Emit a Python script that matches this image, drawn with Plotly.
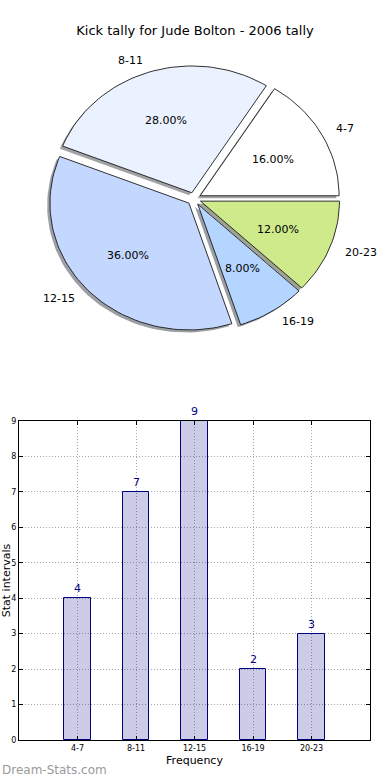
import math
import plotly.graph_objects as go

# ---- data ----
categories = ["4-7", "8-11", "12-15", "16-19", "20-23"]
kick_counts = [4, 7, 9, 2, 3]
slice_colors = ["#ffffff", "#eaf1ff", "#c4d8ff", "#b3d5ff", "#cfea8a"]
y_ticks = list(range(0, 10))
title_text = "Kick tally for Jude Bolton - 2006 tally"

FONT = "DejaVu Sans"
W, H = 390, 780

fig = go.Figure()

# ---- pie drawn as wedges in its own (non-equal aspect) axes ----
total = sum(kick_counts)
explode = 0.05
shadow_off = (-0.02, -0.02)
label_dist = 1.1
pct_dist = 0.6


def hex_rgb(h):
    h = h.lstrip("#")
    return tuple(int(h[i:i + 2], 16) for i in (0, 2, 4))


wedges = []
start = 0.0
for cat, v, col in zip(categories, kick_counts, slice_colors):
    span = 360.0 * v / total
    t1, t2 = start, start + span
    mid = math.radians((t1 + t2) / 2)
    cx, cy = explode * math.cos(mid), explode * math.sin(mid)
    n = max(8, int(span / 2))
    xs, ys = [cx], [cy]
    for k in range(n + 1):
        a = math.radians(t1 + (t2 - t1) * k / n)
        xs.append(cx + math.cos(a))
        ys.append(cy + math.sin(a))
    xs.append(cx)
    ys.append(cy)
    wedges.append((cat, v, col, xs, ys, mid, cx, cy))
    start = t2

# shadows first (behind all wedges)
for cat, v, col, xs, ys, mid, cx, cy in wedges:
    r, g, b = hex_rgb(col)
    fig.add_trace(go.Scatter(
        x=[x + shadow_off[0] for x in xs], y=[y + shadow_off[1] for y in ys],
        xaxis="x2", yaxis="y2", mode="lines", fill="toself",
        fillcolor=f"rgba({int(r*0.3)},{int(g*0.3)},{int(b*0.3)},0.5)",
        line=dict(width=0), hoverinfo="skip", showlegend=False))

for cat, v, col, xs, ys, mid, cx, cy in wedges:
    fig.add_trace(go.Scatter(
        x=xs, y=ys, xaxis="x2", yaxis="y2", mode="lines", fill="toself",
        fillcolor=col, line=dict(width=0.9, color="#1a1a1a"),
        name=cat, hoverinfo="name", showlegend=False))

annotations = []
for cat, v, col, xs, ys, mid, cx, cy in wedges:
    lx = cx + label_dist * math.cos(mid)
    ly = cy + label_dist * math.sin(mid)
    annotations.append(dict(
        x=lx, y=ly, xref="x2", yref="y2", text=cat, showarrow=False,
        xanchor="left" if math.cos(mid) > 0 else "right", yanchor="middle",
        font=dict(family=FONT, size=11, color="#000000")))
    px = cx + pct_dist * math.cos(mid)
    py = cy + pct_dist * math.sin(mid)
    annotations.append(dict(
        x=px, y=py, xref="x2", yref="y2", text=f"{100.0 * v / total:.2f}%",
        showarrow=False, xanchor="center", yanchor="middle",
        font=dict(family=FONT, size=11, color="#000000")))

# ---- bar chart ----
xpos = list(range(1, len(categories) + 1))
fig.add_trace(go.Bar(
    x=xpos, y=kick_counts, width=0.45,
    marker=dict(color="rgba(0,0,128,0.2)", line=dict(color="#000080", width=1)),
    showlegend=False, hovertemplate="%{y}<extra></extra>"))

for xp, v in zip(xpos, kick_counts):
    annotations.append(dict(
        x=xp, y=v, xref="x", yref="y", text=str(v), showarrow=False,
        yanchor="bottom", xanchor="center", yshift=1,
        font=dict(family=FONT, size=11, color="#000080")))

annotations.append(dict(
    x=0.0, y=1 - 770 / H, xref="paper", yref="paper", text="Dream-Stats.com",
    showarrow=False, xanchor="left", yanchor="middle",
    font=dict(family=FONT, size=12, color="#9a9a9a")))

# pie axes: pixel mapping -> center (194, 198.8), 139 px/unit in x, 126.8 px/unit in y
pcx, pcy, sx, sy = 194.0, 198.8, 139.0, 126.8
pie_top_px, pie_bot_px = 0.0, 390.0

grid_style = dict(showgrid=True, gridcolor="#a8a8a8", griddash="1px,2px", gridwidth=1)

fig.update_layout(
    width=W, height=H,
    margin=dict(l=0, r=0, t=0, b=0),
    paper_bgcolor="white", plot_bgcolor="white",
    font=dict(family=FONT, size=11, color="#000000"),
    title=dict(text=title_text, x=0.5, xanchor="center", y=1 - 30 / H,
               yanchor="middle", font=dict(family=FONT, size=13, color="#000000")),
    xaxis2=dict(domain=[0, 1], range=[(0 - pcx) / sx, (W - pcx) / sx],
                visible=False, fixedrange=True),
    yaxis2=dict(domain=[1 - pie_bot_px / H, 1 - pie_top_px / H],
                range=[(pcy - pie_bot_px) / sy, (pcy - pie_top_px) / sy],
                visible=False, fixedrange=True),
    xaxis=dict(domain=[19 / W, 370 / W], range=[0, 6],
               tickvals=xpos, ticktext=categories,
               tickfont=dict(family=FONT, size=8, color="#000000"),
               showline=True, linecolor="#000000", linewidth=1, mirror="allticks",
               ticks="inside", ticklen=4, tickcolor="#000000",
               zeroline=False, automargin=False, **grid_style,
               title=dict(text="Frequency", standoff=4,
                          font=dict(family=FONT, size=11, color="#000000"))),
    yaxis=dict(domain=[1 - 740 / H, 1 - 421 / H], range=[0, 9],
               tickvals=y_ticks,
               tickfont=dict(family=FONT, size=8, color="#000000"),
               showline=True, linecolor="#000000", linewidth=1, mirror="allticks",
               ticks="inside", ticklen=4, tickcolor="#000000",
               zeroline=False, automargin=False, **grid_style,
               title=dict(text="Stat intervals", standoff=2,
                          font=dict(family=FONT, size=11, color="#000000"))),
    annotations=annotations,
    bargap=0,
)

fig.write_html("out.html", config={"displayModeBar": False})

# remove the default page margin so the figure sits at the window's top-left
with open("out.html", "r", encoding="utf-8") as f:
    html = f.read()
html = html.replace(
    "<head>",
    "<head><style>html,body{margin:0;padding:0;overflow:hidden;}</style>", 1)
with open("out.html", "w", encoding="utf-8") as f:
    f.write(html)
